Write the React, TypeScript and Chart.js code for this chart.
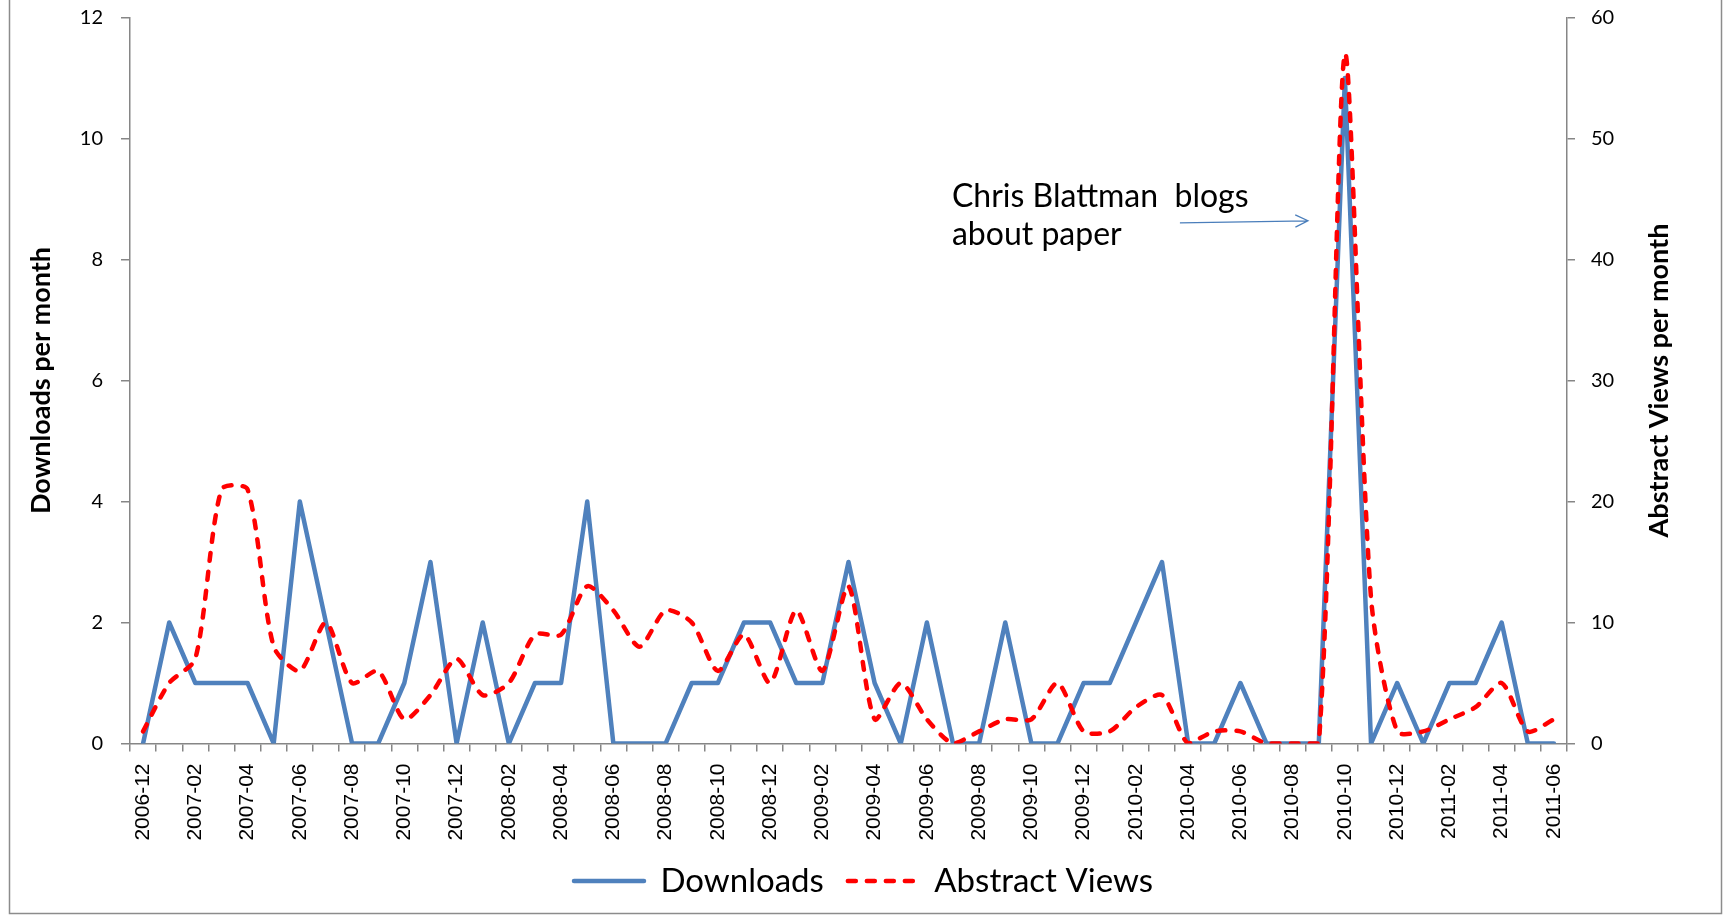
import React, { useEffect, useRef } from 'react';
import { Chart, registerables } from 'chart.js';

Chart.register(...registerables);

const months = [
  '2006-12', '2007-01', '2007-02', '2007-03', '2007-04', '2007-05', '2007-06', '2007-07', '2007-08', '2007-09',
  '2007-10', '2007-11', '2007-12', '2008-01', '2008-02', '2008-03', '2008-04', '2008-05', '2008-06', '2008-07',
  '2008-08', '2008-09', '2008-10', '2008-11', '2008-12', '2009-01', '2009-02', '2009-03', '2009-04', '2009-05',
  '2009-06', '2009-07', '2009-08', '2009-09', '2009-10', '2009-11', '2009-12', '2010-01', '2010-02', '2010-03',
  '2010-04', '2010-05', '2010-06', '2010-07', '2010-08', '2010-09', '2010-10', '2010-11', '2010-12', '2011-01',
  '2011-02', '2011-03', '2011-04', '2011-05', '2011-06',
];

const downloads = [
  0, 2, 1, 1, 1, 0, 4, 2, 0, 0,
  1, 3, 0, 2, 0, 1, 1, 4, 0, 0,
  0, 1, 1, 2, 2, 1, 1, 3, 1, 0,
  2, 0, 0, 2, 0, 0, 1, 1, 2, 3,
  0, 0, 1, 0, 0, 0, 11, 0, 1, 0,
  1, 1, 2, 0, 0,
];

const abstractViews = [
  1, 5, 7, 21, 21, 8, 6, 10, 5, 6,
  2, 4, 7, 4, 5, 9, 9, 13, 11, 8,
  11, 10, 6, 9, 5, 11, 6, 13, 2, 5,
  2, 0, 1, 2, 2, 5, 1, 1, 3, 4,
  0, 1, 1, 0, 0, 0, 57, 12, 1, 1,
  2, 3, 5, 1, 2,
];

const leftRange = [0, 12];
const leftStep = 2;
const rightRange = [0, 60];
const rightStep = 10;

const seriesNames = ['Downloads', 'Abstract Views'];
const axisTitles = ['Downloads per month', 'Abstract Views per month'];
const annotationLines = ['Chris Blattman  blogs', 'about paper'];
const annotationIndex = 46; // 2010-10
const annotationValue = 43.2; // right-axis level of the arrow

const W = 1727;
const H = 922;
const AXIS_GRAY = '#868686';

const decorPlugin = {
  id: 'decor',
  afterDraw(chart: any) {
    const { ctx, chartArea, scales } = chart;
    ctx.save();
    // outer frame
    ctx.strokeStyle = '#8c8c8c';
    ctx.lineWidth = 1.5;
    ctx.strokeRect(9.5, -5, 1712, 918.5);

    // axis titles (both read bottom-to-top)
    ctx.fillStyle = '#000';
    ctx.font = 'bold 27px Lato';
    ctx.textAlign = 'center';
    ctx.textBaseline = 'middle';
    const cy = (chartArea.top + chartArea.bottom) / 2;
    ctx.save();
    ctx.translate(scales.y.left + 41, cy);
    ctx.rotate(-Math.PI / 2);
    ctx.fillText(axisTitles[0], 0, 0);
    ctx.restore();
    ctx.save();
    ctx.translate(scales.y1.right - 68, cy);
    ctx.rotate(-Math.PI / 2);
    ctx.fillText(axisTitles[1], 0, 0);
    ctx.restore();

    // annotation arrow + text
    const tipX = scales.x.getPixelForValue(annotationIndex) - 37;
    const tipY = scales.y1.getPixelForValue(annotationValue);
    const tailX = tipX - 128;
    const tailY = tipY + 2;
    ctx.strokeStyle = '#4a7ebb';
    ctx.lineWidth = 1.3;
    ctx.beginPath();
    ctx.moveTo(tailX, tailY);
    ctx.lineTo(tipX, tipY);
    const ang = Math.atan2(tipY - tailY, tipX - tailX);
    const hl = 14;
    ctx.moveTo(tipX - hl * Math.cos(ang - 0.45), tipY - hl * Math.sin(ang - 0.45));
    ctx.lineTo(tipX, tipY);
    ctx.lineTo(tipX - hl * Math.cos(ang + 0.45), tipY - hl * Math.sin(ang + 0.45));
    ctx.stroke();

    ctx.fillStyle = '#000';
    ctx.font = '32px Lato';
    ctx.textAlign = 'left';
    ctx.textBaseline = 'alphabetic';
    ctx.fillText(annotationLines[0], tipX - 356, tipY - 14);
    ctx.fillText(annotationLines[1], tipX - 356, tipY + 24);
    ctx.restore();
  },
};

export default function App() {
  const canvasRef = useRef<HTMLCanvasElement | null>(null);

  useEffect(() => {
    document.body.style.margin = '0';
    const canvas = canvasRef.current;
    if (!canvas) return;
    const chart = new Chart(canvas, {
      type: 'line',
      data: {
        labels: months,
        datasets: [
          {
            label: seriesNames[0],
            data: downloads,
            yAxisID: 'y',
            borderColor: '#4f81bd',
            backgroundColor: '#4f81bd',
            borderWidth: 4.5,
            pointRadius: 0,
            tension: 0,
            borderJoinStyle: 'round',
            borderCapStyle: 'round',
            order: 1,
          },
          {
            label: seriesNames[1],
            data: abstractViews,
            yAxisID: 'y1',
            borderColor: '#ff0000',
            backgroundColor: '#ff0000',
            borderWidth: 4.5,
            borderDash: [8, 11],
            borderCapStyle: 'round',
            borderJoinStyle: 'round',
            pointRadius: 0,
            tension: 0.25,
            order: 0,
          },
        ],
      },
      options: {
        responsive: false,
        animation: false,
        devicePixelRatio: 1,
        layout: { padding: { top: 17.5, left: 0, right: 0, bottom: 14.5 } },
        plugins: {
          tooltip: { enabled: false },
          legend: {
            position: 'bottom',
            labels: {
              usePointStyle: true,
              pointStyle: 'line',
              pointStyleWidth: 70,
              color: '#000',
              padding: 24,
              font: { family: 'Lato', size: 33 },
              sort: (a: any, b: any) => a.datasetIndex - b.datasetIndex,
              generateLabels: (ch: any) => {
                const items = (Chart.defaults as any).plugins.legend.labels.generateLabels(ch);
                items.forEach((it: any) => {
                  const ds: any = ch.data.datasets[it.datasetIndex];
                  it.lineDash = ds.borderDash || [];
                  it.lineCap = 'round';
                  it.lineWidth = 4.5;
                  it.strokeStyle = ds.borderColor;
                });
                return items;
              },
            },
          },
        },
        scales: {
          x: {
            type: 'category',
            offset: true,
            grid: {
              offset: true,
              drawOnChartArea: false,
              drawTicks: true,
              tickLength: 8,
              color: AXIS_GRAY,
              lineWidth: 1.5,
            },
            border: { display: true, color: AXIS_GRAY, width: 1.5 },
            ticks: {
              autoSkip: false,
              maxRotation: 90,
              minRotation: 90,
              padding: 12,
              color: '#000',
              font: { family: 'Liberation Sans', size: 21 },
              callback: (_v: any, i: number) => (i % 2 === 0 ? months[i] : ''),
            },
            afterFit: (s: any) => {
              s.height = 97;
            },
          },
          y: {
            type: 'linear',
            position: 'left',
            min: leftRange[0],
            max: leftRange[1],
            grid: { drawOnChartArea: false, drawTicks: true, tickLength: 9, color: AXIS_GRAY, lineWidth: 1.5 },
            border: { display: true, color: AXIS_GRAY, width: 1.5 },
            ticks: {
              stepSize: leftStep,
              padding: 18,
              color: '#000',
              font: { family: 'Lato', size: 20 },
            },
            afterFit: (s: any) => {
              s.width = 130;
              s.paddingTop = 0;
              s.paddingBottom = 0;
            },
          },
          y1: {
            type: 'linear',
            position: 'right',
            min: rightRange[0],
            max: rightRange[1],
            grid: { drawOnChartArea: false, drawTicks: true, tickLength: 8, color: AXIS_GRAY, lineWidth: 1.5 },
            border: { display: true, color: AXIS_GRAY, width: 1.5 },
            ticks: {
              stepSize: rightStep,
              padding: 16,
              color: '#000',
              font: { family: 'Lato', size: 20 },
            },
            afterFit: (s: any) => {
              s.width = W - 1567;
              s.paddingTop = 0;
              s.paddingBottom = 0;
            },
          },
        },
      },
      plugins: [decorPlugin],
    } as any);
    return () => chart.destroy();
  }, []);

  return (
    <div style={{ position: 'absolute', left: 0, top: 0, width: W, height: H, background: '#fff' }}>
      <canvas ref={canvasRef} width={W} height={H} style={{ display: 'block' }} />
    </div>
  );
}
